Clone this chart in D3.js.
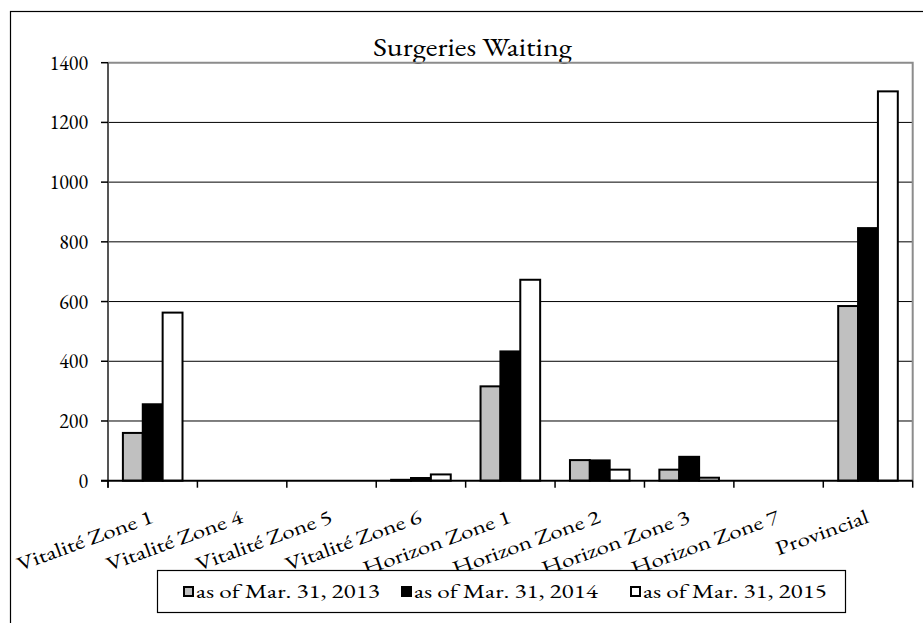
<!DOCTYPE html>
<html>
<head>
<meta charset="utf-8">
<script src="https://cdn.jsdelivr.net/npm/d3@7"></script>
<style>
  body { margin: 0; background: #fff; }
</style>
</head>
<body>
<svg id="chart" width="923" height="623"></svg>
<script>
const categories = ['Vitalité Zone 1', 'Vitalité Zone 4', 'Vitalité Zone 5', 'Vitalité Zone 6',
  'Horizon Zone 1', 'Horizon Zone 2', 'Horizon Zone 3', 'Horizon Zone 7', 'Provincial']
const seriesNames = ['as of Mar. 31, 2013', 'as of Mar. 31, 2014', 'as of Mar. 31, 2015']
const values2013 = [160, 0, 0, 3, 316, 69, 37, 0, 585]
const values2014 = [256, 0, 0, 9, 433, 68, 80, 0, 846]
const values2015 = [563, 0, 0, 21, 673, 37, 10, 0, 1304]
const seriesColours = ['#c0c0c0', '#000000', '#ffffff']
const yTicks = [0, 200, 400, 600, 800, 1000, 1200, 1400]

const seriesValues = [values2013, values2014, values2015]
const rows = categories.map((c, i) => ({
  category: c,
  values: seriesNames.map((s, j) => ({ series: s, value: seriesValues[j][i] })),
}))

const svg = d3.select('#chart')
const fontFamily = "'EB Garamond', 'Liberation Serif', serif"

// the source picture is a bit wider than tall, so the glyphs are stretched
function stretchFor(text, size, targetWidth) {
  const probe = svg.append('text').style('font-family', fontFamily).style('font-size', size + 'px').text(text)
  const w = probe.node().getComputedTextLength()
  probe.remove()
  return w > 0 ? targetWidth / w : 1
}
const labelSize = 20
const labelStretch = stretchFor('as of Mar. 31, 2013', labelSize, 184)
const titleStretch = stretchFor('Surgeries Waiting', 26, 199)

const plot = { left: 108, right: 912.7, top: 62.7, bottom: 480.7 }

const x = d3.scaleBand().domain(categories).range([plot.left, plot.right]).padding(0)
const xSub = d3
  .scaleBand()
  .domain(seriesNames)
  .range([0, x.bandwidth()])
  .paddingInner(0)
  .paddingOuter(0.75)
const y = d3.scaleLinear().domain([0, 1400]).range([plot.bottom, plot.top])
const colour = d3.scaleOrdinal().domain(seriesNames).range(seriesColours)

// outer chart frame
svg
  .append('rect')
  .attr('x', 10.5)
  .attr('y', 11.5)
  .attr('width', 930)
  .attr('height', 640)
  .attr('fill', 'none')
  .attr('stroke', '#000')
  .attr('stroke-width', 1.2)

// title
svg
  .append('text')
  .attr('transform', `translate(${(plot.left + plot.right) / 2 - 38}, 56) scale(${titleStretch}, 1)`)
  .attr('text-anchor', 'middle')
  .style('font-family', fontFamily)
  .style('font-size', '26px')
  .text('Surgeries Waiting')

// gridlines
svg
  .append('g')
  .selectAll('line')
  .data(yTicks.filter((d) => d > 0 && d < 1400))
  .join('line')
  .attr('x1', plot.left)
  .attr('x2', plot.right)
  .attr('y1', (d) => y(d))
  .attr('y2', (d) => y(d))
  .attr('stroke', '#000')
  .attr('stroke-width', 1)

// plot border top + right (grey)
svg
  .append('path')
  .attr('d', `M${plot.left},${plot.top}H${plot.right}V${plot.bottom}`)
  .attr('fill', 'none')
  .attr('stroke', '#8c8c8c')
  .attr('stroke-width', 2)

// bars
svg
  .append('g')
  .selectAll('g')
  .data(rows)
  .join('g')
  .attr('transform', (d) => `translate(${x(d.category)}, 0)`)
  .selectAll('rect')
  .data((d) => d.values)
  .join('rect')
  .attr('x', (d) => xSub(d.series))
  .attr('width', xSub.bandwidth())
  .attr('y', (d) => y(d.value))
  .attr('height', (d) => y(0) - y(d.value))
  .attr('fill', (d) => colour(d.series))
  .attr('stroke', '#000')
  .attr('stroke-width', 2)

// y axis
const yAxis = svg.append('g')
yAxis
  .append('line')
  .attr('x1', plot.left)
  .attr('x2', plot.left)
  .attr('y1', plot.top)
  .attr('y2', plot.bottom + 7)
  .attr('stroke', '#555')
  .attr('stroke-width', 2)
yAxis
  .selectAll('.tick')
  .data(yTicks)
  .join('line')
  .attr('x1', plot.left - 7)
  .attr('x2', plot.left)
  .attr('y1', (d) => y(d))
  .attr('y2', (d) => y(d))
  .attr('stroke', '#000')
  .attr('stroke-width', 1.5)
yAxis
  .selectAll('text')
  .data(yTicks)
  .join('text')
  .attr('transform', (d) => `translate(88, ${y(d) + 7}) scale(0.95, 1)`)
  .attr('text-anchor', 'end')
  .style('font-family', fontFamily)
  .style('font-size', '21px')
  .text((d) => d)

// x axis
const xAxis = svg.append('g')
xAxis
  .append('line')
  .attr('x1', plot.left - 7)
  .attr('x2', plot.right)
  .attr('y1', plot.bottom)
  .attr('y2', plot.bottom)
  .attr('stroke', '#000')
  .attr('stroke-width', 2)
const boundaries = categories.map((c) => x(c)).concat([plot.right])
xAxis
  .selectAll('.tick')
  .data(boundaries)
  .join('line')
  .attr('x1', (d) => d)
  .attr('x2', (d) => d)
  .attr('y1', plot.bottom)
  .attr('y2', plot.bottom + 7)
  .attr('stroke', '#000')
  .attr('stroke-width', 1.5)
xAxis
  .selectAll('text')
  .data(categories)
  .join('text')
  .attr(
    'transform',
    (d) => `translate(${x(d) + x.bandwidth() / 2 + 2}, 522) rotate(-20) scale(${labelStretch}, 1)`
  )
  .attr('text-anchor', 'end')
  .style('font-family', fontFamily)
  .style('font-size', labelSize + 'px')
  .text((d) => d)

// legend
const legend = svg.append('g')
legend
  .append('rect')
  .attr('x', 157.5)
  .attr('y', 570.5)
  .attr('width', 688)
  .attr('height', 42)
  .attr('fill', '#fff')
  .attr('stroke', '#000')
  .attr('stroke-width', 1.2)

const legendX = d3.scaleOrdinal().domain(seriesNames).range([184, 402, 631])
const legendItem = legend
  .selectAll('g')
  .data(seriesNames)
  .join('g')
  .attr('transform', (d) => `translate(${legendX(d)}, 587)`)
legendItem
  .append('rect')
  .attr('width', 9)
  .attr('height', 9)
  .attr('fill', (d) => colour(d))
  .attr('stroke', '#000')
  .attr('stroke-width', 2)
legendItem
  .append('text')
  .attr('transform', `translate(12, 11) scale(${labelStretch}, 1)`)
  .style('font-family', fontFamily)
  .style('font-size', labelSize + 'px')
  .text((d) => d)
</script>
</body>
</html>
